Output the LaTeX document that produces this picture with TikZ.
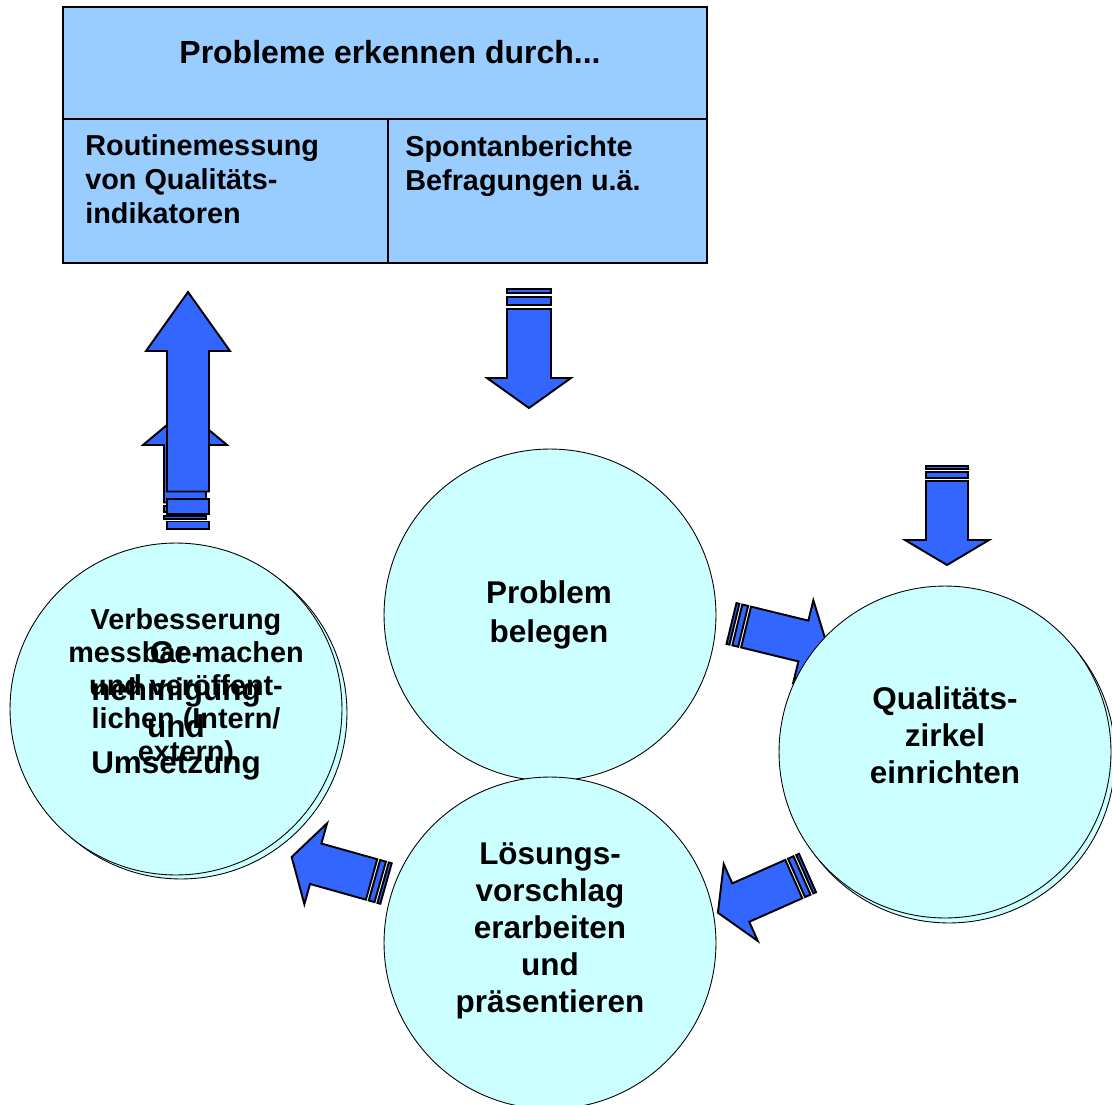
\documentclass[tikz,border=0pt]{standalone}
\usepackage{fontspec}
\setmainfont{Liberation Sans}
\definecolor{boxblue}{HTML}{99CCFF}
\definecolor{circfill}{HTML}{CCFFFF}
\definecolor{arrowblue}{HTML}{3366FF}
\newcommand\sarrow[8]{%
\begin{scope}[shift={(#1,-#2)},rotate=#3]
\filldraw[arrowbody] (0,-#7) rectangle (#6,#7);
\filldraw[arrowbody] ({2*#6},-#7) rectangle ({4*#6},#7);
\filldraw[arrowbody] ({5*#6},-#7) -- ({#4-#5},-#7) -- ({#4-#5},-#8) -- (#4,0) -- ({#4-#5},#8) -- ({#4-#5},#7) -- ({5*#6},#7) -- cycle;
\end{scope}}
\begin{document}
\begin{tikzpicture}[x=0.02cm,y=0.02cm,
  boxcell/.style={draw=black,line width=0.85pt,fill=boxblue},
  bubble/.style={circle,draw=black,line width=0.5pt,fill=circfill,inner sep=0pt,minimum size=6.64cm},
  arrowbody/.style={draw=black,line width=1.1pt,fill=arrowblue,line join=miter},
  bigtxt/.style={font=\bfseries\fontsize{17.9}{21}\selectfont,align=center,inner sep=0pt},
  boxtxt/.style={font=\bfseries\fontsize{16.4}{19.3}\selectfont,align=left,inner sep=0pt},
  smalltxt/.style={font=\bfseries\fontsize{16.4}{18.7}\selectfont,align=center,inner sep=0pt}]
\useasboundingbox (0,0) rectangle (1112,-1105);
\clip (0,0) rectangle (1112,-1105);
% top box
\draw[boxcell] (63,-7) rectangle (707,-119);
\draw[boxcell] (63,-119) rectangle (388,-263);
\draw[boxcell] (388,-119) rectangle (707,-263);
\node[font=\bfseries\fontsize{18.2}{21}\selectfont,inner sep=0pt] (hdr) at (390,-52) {Probleme erkennen durch...};
\node[boxtxt,anchor=west] (cellL) at (85,-179) {Routinemessung\\von Qualitäts-\\indikatoren};
\node[boxtxt,anchor=west] (cellR) at (405,-166) {Spontanberichte\\Befragungen u.ä.};
% arrows (top)
\sarrow{185}{519}{90}{109}{35}{3.3}{21}{42}
\sarrow{188}{529}{90}{237}{59}{7.5}{21}{42}
\sarrow{529}{289}{-90}{119}{30}{4}{22}{42}
\sarrow{947}{466}{-90}{99}{25}{3}{21}{42}
% circles
\node[bubble] (lcs) at (181,-713) {};
\node[bubble] (lc) at (176,-709) {};
\node[smalltxt] (lct1) at (186,-688) {Verbesserung\\messbar machen\\und veröffent-\\lichen (Intern/\\extern)};
\node[bigtxt] (lct2) at (176,-711) {Ge-\\nehmigung\\und\\Umsetzung};
\node[bubble] (pb) at (550,-615) {};
\node[bigtxt,font=\bfseries\fontsize{17.9}{22.2}\selectfont] (pbt) at (549,-615) {Problem\\belegen};
\node[bubble] (ls) at (550,-943) {};
\node[bigtxt] (lst) at (550,-931) {Lösungs-\\vorschlag\\erarbeiten\\und\\präsentieren};
\sarrow{731.5}{623.5}{-13.7}{99}{25}{3}{21}{42}
\sarrow{807.5}{873}{203.9}{98}{25}{3}{21}{42}
\sarrow{386}{883.5}{164.3}{98}{25}{3}{21}{42}
\node[bubble] (qzs) at (949,-757) {};
\node[bubble] (qz) at (945,-752) {};
\node[bigtxt] (qzt) at (945,-735) {Qualitäts-\\zirkel\\einrichten};
\end{tikzpicture}
\end{document}
